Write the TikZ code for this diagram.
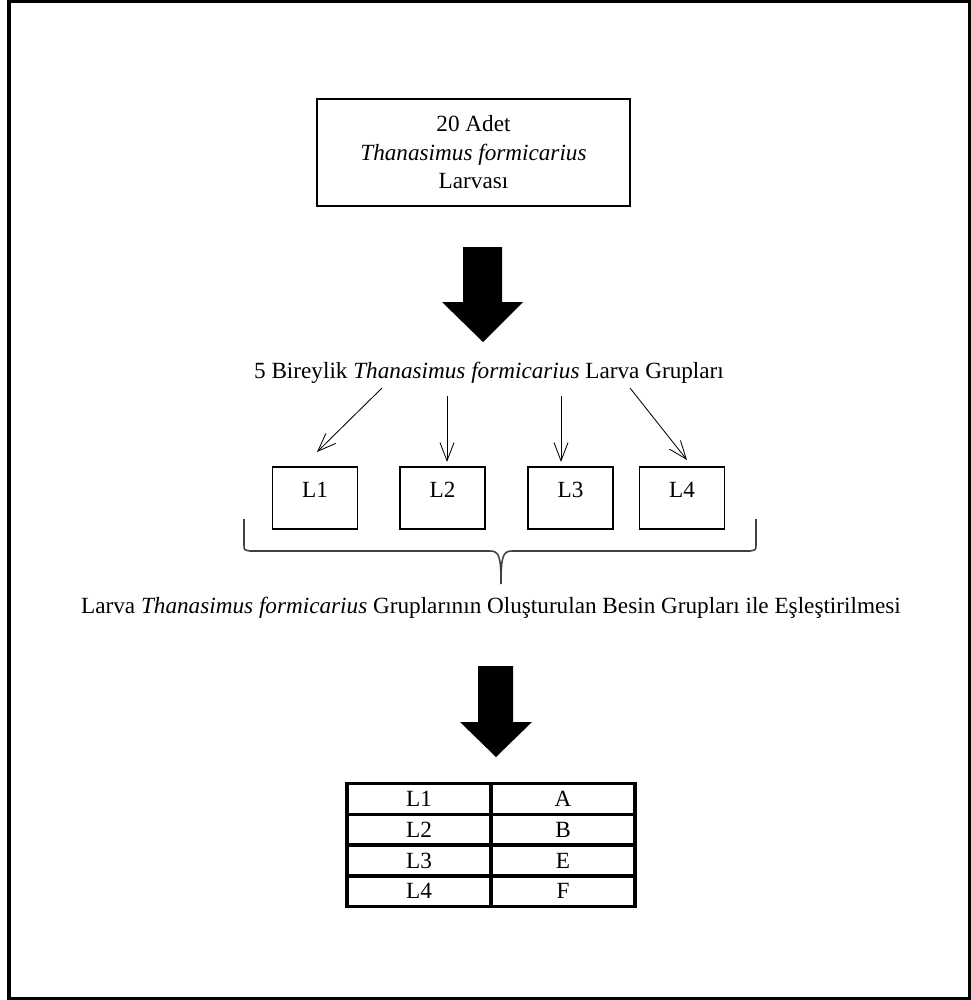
\documentclass[tikz,border=0pt]{standalone}
\usepackage{fontspec}
\setmainfont{Liberation Serif}
\usetikzlibrary{arrows.meta}
\begin{document}
\begin{tikzpicture}[x=0.025cm, y=-0.025cm, every node/.style={font=\fontsize{16.5}{20.3}\selectfont}, box/.style={draw, thick, inner sep=0pt}, larva/.style={box, minimum width=2.125cm, text height=0.75cm, text depth=0.8cm}, cell/.style={draw, line width=2.6pt, minimum width=3.6cm, minimum height=0.77cm, inner sep=0pt}, >={Straight Barb[length=13pt, width=10pt]}]
        \useasboundingbox (0,0) rectangle (971,1000);
        \draw[line width=2.2pt] (9,1.5) rectangle (970,998.5);
        \node[box, minimum width=7.825cm, minimum height=2.675cm, align=center] (start) at (473.5,152.5) {20 Adet\\\textit{Thanasimus formicarius}\\Larvası};
        \fill (463,247) -- (502,247) -- (502,302) -- (523,302) -- (483,342) -- (442,302) -- (463,302) -- cycle;
        \node (grp) at (489,373) {5 Bireylik \textit{Thanasimus formicarius} Larva Grupları};
        \node[larva] (L1) at (315,498) {L1};
        \node[larva] (L2) at (442.5,498) {L2};
        \node[larva] (L3) at (570.5,498) {L3};
        \node[larva] (L4) at (682,498) {L4};
        \coordinate (s1) at (382,388);
        \coordinate (s2) at (447,396);
        \coordinate (s3) at (561,396);
        \coordinate (s4) at (630,388);
        \coordinate (e1) at (317,452);
        \coordinate (e2) at (447,462);
        \coordinate (e3) at (561,462);
        \coordinate (e4) at (687,460);
        \draw[->, semithick] (s1) -- (e1);
        \draw[->, semithick] (s2) -- (e2);
        \draw[->, semithick] (s3) -- (e3);
        \draw[->, semithick] (s4) -- (e4);
        \draw[line width=1.1pt, black!75] (244,519) -- (244,545) .. controls (244,550) .. (250,551) -- (490,551) .. controls (499,551) and (501,556) .. (501,584) .. controls (501,556) and (503,551) .. (512,551) -- (750,551) .. controls (756,550) .. (756,545) -- (756,519);
        \node (match) at (491,608) {Larva \textit{Thanasimus formicarius} Gruplarının Oluşturulan Besin Grupları ile Eşleştirilmesi};
        \fill (478,666) -- (513,666) -- (513,722) -- (532,722) -- (496,757) -- (460,722) -- (478,722) -- cycle;
        \node[cell] (r1a) at (419,799) {L1};
        \node[cell] (r1b) at (563,799) {A};
        \node[cell] (r2a) at (419,830) {L2};
        \node[cell] (r2b) at (563,830) {B};
        \node[cell] (r3a) at (419,860.5) {L3};
        \node[cell] (r3b) at (563,860.5) {E};
        \node[cell] (r4a) at (419,891) {L4};
        \node[cell] (r4b) at (563,891) {F};
    \end{tikzpicture}
\end{document}
